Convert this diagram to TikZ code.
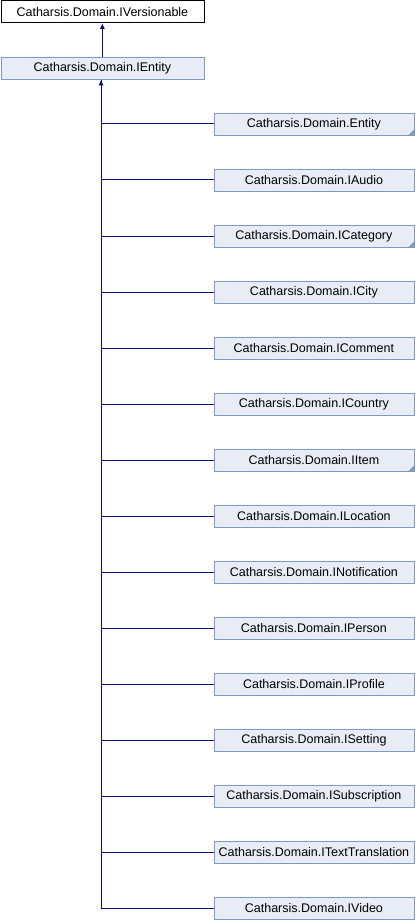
\documentclass[tikz,border=0pt]{standalone}
\usepackage{fontspec}
\setmainfont{Liberation Sans}
\usetikzlibrary{arrows.meta}
\definecolor{edgeblue}{HTML}{0A0A80}
\definecolor{boxfill}{HTML}{E8ECF5}
\definecolor{boxline}{HTML}{8098C8}
\tikzset{
  cls/.style={draw=boxline, fill=boxfill, line width=0.8pt, minimum width=200pt, minimum height=22pt, inner sep=0pt, font=\fontsize{12.5}{14}\selectfont},
  rootcls/.style={cls, draw=black, fill=white},
  inh/.style={draw=edgeblue, line width=1pt},
  inharrow/.style={inh, -{Latex[length=5.5pt,width=5pt]}}
}
\newcommand{\truncmark}[1]{\fill[boxline] ([xshift=-0.5pt,yshift=0.5pt]#1.south east) -- ++(-5pt,0) -- ++(5pt,5pt) -- cycle;}
\begin{document}
\begin{tikzpicture}[x=1pt,y=-1pt]
\useasboundingbox (0,0) rectangle (416,920);
\node[rootcls, minimum width=203pt, anchor=north west] (vers) at (0.5,0.5) {Catharsis.Domain.IVersionable};
\node[cls, minimum width=203pt, anchor=north west] (ent) at (0.5,57) {Catharsis.Domain.IEntity};
\draw[inharrow] (ent.north) -- (vers.south);
\foreach \n/\t [count=\i from 0] in {c0/Entity,c1/IAudio,c2/ICategory,c3/ICity,c4/IComment,c5/ICountry,c6/IItem,c7/ILocation,c8/INotification,c9/IPerson,c10/IProfile,c11/ISetting,c12/ISubscription,c13/ITextTranslation,c14/IVideo}{
  \node[cls, anchor=west] (\n) at (213.5,{124+56*\i}) {Catharsis.Domain.\t};
}
\coordinate (bend) at (101,908);
\draw[inh] (c14.west) -- (bend) -- (bend |- ent.south);
\draw[inharrow] (bend |- c0.west) -- (bend |- ent.south);
\foreach \n in {c0,c1,c2,c3,c4,c5,c6,c7,c8,c9,c10,c11,c12,c13}{
  \draw[inh] (\n.west) -- (bend |- \n.west);
}
\truncmark{c0}
\truncmark{c2}
\truncmark{c6}
\end{tikzpicture}
\end{document}
